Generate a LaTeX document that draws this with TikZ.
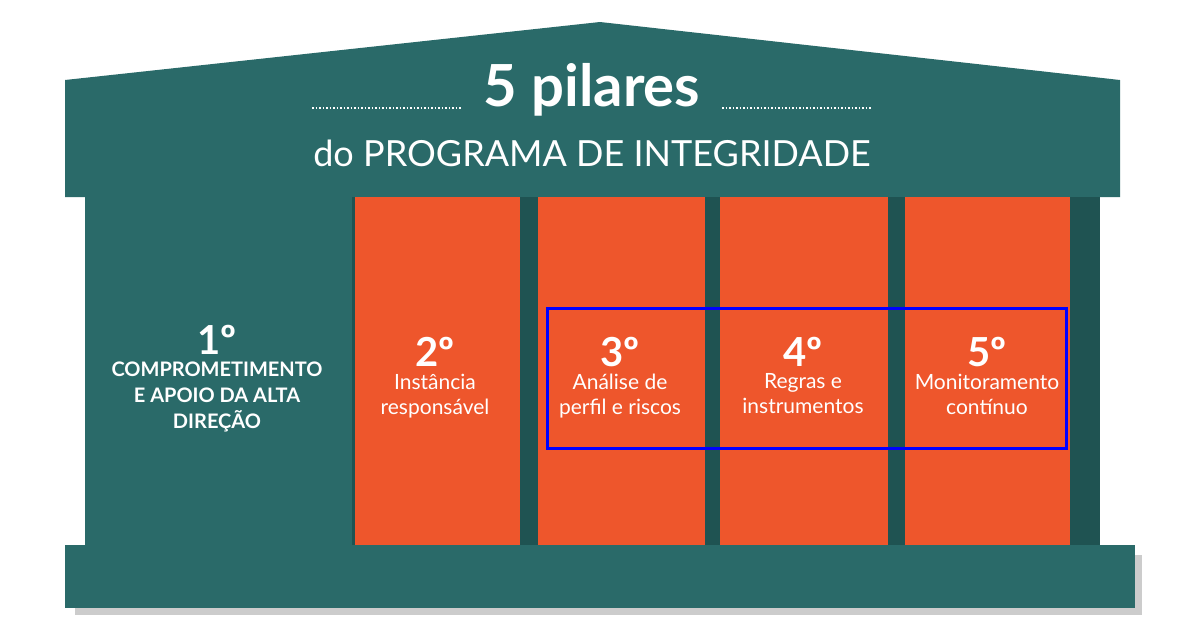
\documentclass[tikz,border=0pt]{standalone}
\usepackage{fontspec}
\setmainfont{Lato}
\usetikzlibrary{positioning}
\definecolor{teal}{HTML}{2A6A69}
\definecolor{darkteal}{HTML}{1F5352}
\definecolor{laranja}{HTML}{EE562C}
\tikzset{
  pilar/.style={fill=laranja, draw=none},
  num/.style={text=white, font=\bfseries\fontsize{40}{40}\selectfont},
  rotulo/.style={text=white, align=center, font=\fontsize{21}{25}\selectfont},
}
\begin{document}
\begin{tikzpicture}[x=1pt,y=-1pt]
		\useasboundingbox (0,0) rectangle (1200,630);
		\fill[white] (0,0) rectangle (1200,630);
		% telhado
		\fill[teal] (65,80) -- (600,22) -- (1120,80) -- (1120,197) -- (65,197) -- cycle;
		% fundo das colunas
		\fill[darkteal] (85,197) rectangle (1100,545);
		\fill[teal] (85,197) rectangle (352,545);
		\fill[pilar] (355,197) rectangle (520,545);
		\fill[pilar] (538,197) rectangle (705,545);
		\fill[pilar] (720,197) rectangle (888,545);
		\fill[pilar] (905,197) rectangle (1070,545);
		% base
		\fill[gray!40] (75,555) rectangle (1142,615);
		\fill[teal] (65,545) rectangle (1135,608);
		% titulo
		\node[text=white, font=\bfseries\fontsize{58}{58}\selectfont] (tit) at (592,90) {5 pilares};
		\draw[white, dotted, line width=1.5pt] (312,108) -- (462,108);
		\draw[white, dotted, line width=1.5pt] (722,108) -- (872,108);
		\node[text=white, font=\fontsize{36}{36}\selectfont] (sub) at (592,153) {do PROGRAMA DE INTEGRIDADE};
		% pilares
		\node[num] (n1) at (217,340) {1º};
		\node[text=white, align=center, font=\bfseries\fontsize{20}{26}\selectfont, below=0pt of n1] (t1) {COMPROMETIMENTO\\E APOIO DA ALTA\\DIREÇÃO};
		\node[num] (n2) at (435,352) {2º};
		\node[rotulo, below=0pt of n2] (t2) {Instância\\responsável};
		\node[num] (n3) at (620,352) {3º};
		\node[rotulo, below=0pt of n3] (t3) {Análise de\\perfil e riscos};
		\node[num] (n4) at (803,352) {4º};
		\node[rotulo, below=0pt of n4] (t4) {Regras e\\instrumentos};
		\node[num] (n5) at (987,352) {5º};
		\node[rotulo, below=0pt of n5] (t5) {Monitoramento\\contínuo};
		% destaque
		\draw[blue, line width=3pt] (547,308) rectangle (1066,448);
	\end{tikzpicture}
\end{document}
